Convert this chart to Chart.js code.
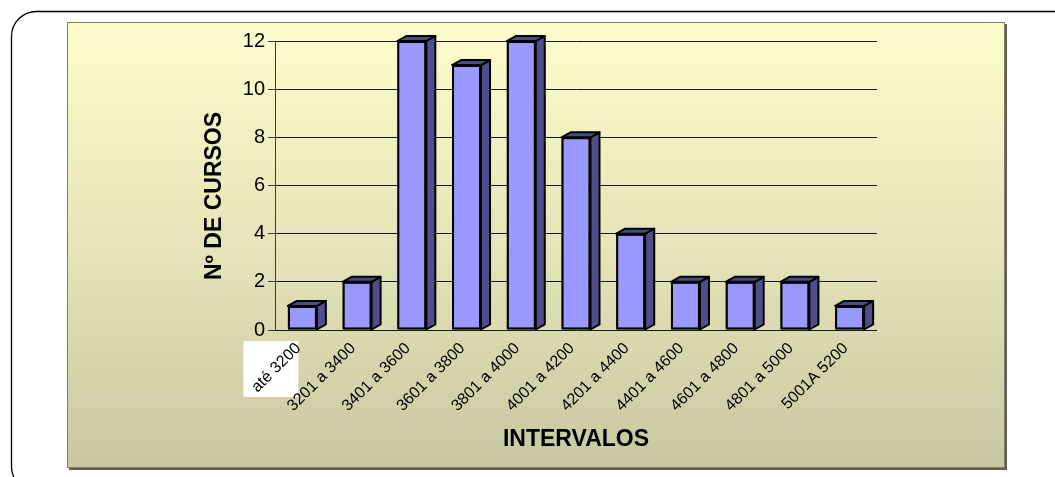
<!DOCTYPE html>
<html>
<head>
<meta charset="utf-8">
<script src="https://cdn.jsdelivr.net/npm/chart.js@4/dist/chart.umd.min.js"></script>
<style>
  html, body { margin: 0; padding: 0; background: #ffffff; overflow: hidden; }
  canvas { display: block; }
</style>
</head>
<body>
<canvas id="c" width="1055" height="477"></canvas>
<script>
const categories = ['até 3200', '3201 a 3400', '3401 a 3600', '3601 a 3800', '3801 a 4000',
  '4001 a 4200', '4201 a 4400', '4401 a 4600', '4601 a 4800', '4801 a 5000', '5001A 5200'];
const cursos = [1, 2, 12, 11, 12, 8, 4, 2, 2, 2, 1];
const yMin = 0, yMax = 12, yStep = 2;
const yTitle = 'Nº DE CURSOS';
const xTitle = 'INTERVALOS';

const FONT = "'Liberation Sans', Arial, sans-serif";

const backgroundPlugin = {
  id: 'bgPanel',
  beforeDraw(chart) {
    const ctx = chart.ctx;
    ctx.save();
    ctx.fillStyle = '#ffffff';
    ctx.fillRect(0, 0, chart.width, chart.height);
    // outer rounded frame
    ctx.beginPath();
    ctx.roundRect(11.5, 11.5, 1070, 480, 25);
    ctx.strokeStyle = '#000000';
    ctx.lineWidth = 1.3;
    ctx.stroke();
    // shadow of the panel
    ctx.fillStyle = '#5e5e5a';
    ctx.fillRect(69, 24, 938, 446);
    // gradient panel
    const g = ctx.createLinearGradient(0, 22, 0, 468);
    g.addColorStop(0, '#fefdcc');
    g.addColorStop(0.5, '#e6e4b8');
    g.addColorStop(1, '#c8c7a1');
    ctx.fillStyle = g;
    ctx.fillRect(67, 22, 938, 446);
    ctx.strokeStyle = '#7f7f60';
    ctx.lineWidth = 1;
    ctx.strokeRect(67.5, 22.5, 937, 445);
    // white backdrop behind the first category label
    const xs = chart.scales.x;
    const px = xs.getPixelForValue(0);
    const by = chart.chartArea.bottom;
    ctx.fillStyle = '#ffffff';
    ctx.fillRect(px - 59, by + 11, 55, 56);
    ctx.restore();
  },
  afterDraw(chart) {
    const ctx = chart.ctx;
    ctx.save();
    ctx.font = 'bold 23px ' + FONT;
    ctx.fillStyle = '#000000';
    ctx.textAlign = 'center';
    ctx.textBaseline = 'middle';
    ctx.translate(215, 196);
    ctx.rotate(-Math.PI / 2);
    ctx.fillText(yTitle, 0, 0);
    ctx.restore();
  }
};

const bar3dPlugin = {
  id: 'bar3d',
  afterDatasetsDraw(chart) {
    const ctx = chart.ctx;
    const meta = chart.getDatasetMeta(0);
    const dx = 9, dy = 5;
    ctx.save();
    ctx.lineWidth = 2;
    ctx.lineJoin = 'round';
    ctx.strokeStyle = '#000000';
    meta.data.forEach(el => {
      const p = el.getProps(['x', 'y', 'base', 'width'], true);
      const left = p.x - p.width / 2;
      const right = p.x + p.width / 2;
      const top = p.y;
      const base = p.base;
      // side face
      ctx.beginPath();
      ctx.moveTo(right, top);
      ctx.lineTo(right + dx, top - dy);
      ctx.lineTo(right + dx, base - dy);
      ctx.lineTo(right, base);
      ctx.closePath();
      ctx.fillStyle = '#4e4e8a';
      ctx.fill();
      ctx.stroke();
      // top face
      ctx.beginPath();
      ctx.moveTo(left, top);
      ctx.lineTo(left + dx, top - dy);
      ctx.lineTo(right + dx, top - dy);
      ctx.lineTo(right, top);
      ctx.closePath();
      ctx.fillStyle = '#4a4a86';
      ctx.fill();
      ctx.stroke();
      // front outline
      ctx.strokeRect(left + 1, top + 1, p.width - 2, base - top - 2);
    });
    ctx.restore();
  }
};

new Chart(document.getElementById('c'), {
  type: 'bar',
  data: {
    labels: categories,
    datasets: [{
      data: cursos,
      backgroundColor: '#9999ff',
      borderColor: '#000000',
      borderWidth: 2,
      borderSkipped: false,
      barPercentage: 0.53,
      categoryPercentage: 1.0
    }]
  },
  options: {
    responsive: false,
    animation: false,
    devicePixelRatio: 1,
    layout: { padding: { left: 0, top: 41, right: 178, bottom: 0 } },
    plugins: {
      legend: { display: false },
      tooltip: { enabled: false },
      title: { display: false }
    },
    scales: {
      x: {
        grid: { display: false, drawTicks: false },
        border: { display: false },
        ticks: {
          minRotation: 45,
          maxRotation: 45,
          autoSkip: false,
          padding: 9,
          labelOffset: -4,
          color: '#000000',
          font: { family: FONT, size: 16 }
        },
        title: {
          display: true,
          text: xTitle,
          color: '#000000',
          font: { family: FONT, size: 23, weight: 'bold' },
          padding: { top: 0, bottom: 24 }
        },
        afterFit(scale) { scale.height = 147; }
      },
      y: {
        min: yMin,
        max: yMax,
        grid: {
          color: '#1a1a1a',
          lineWidth: 1,
          tickLength: 7,
          tickColor: '#3a3a3a'
        },
        border: { display: true, color: '#3a3a3a', width: 1 },
        ticks: {
          stepSize: yStep,
          padding: 3,
          color: '#000000',
          font: { family: FONT, size: 20 }
        },
        afterFit(scale) { scale.width = 275; }
      }
    }
  },
  plugins: [backgroundPlugin, bar3dPlugin]
});
</script>
</body>
</html>
